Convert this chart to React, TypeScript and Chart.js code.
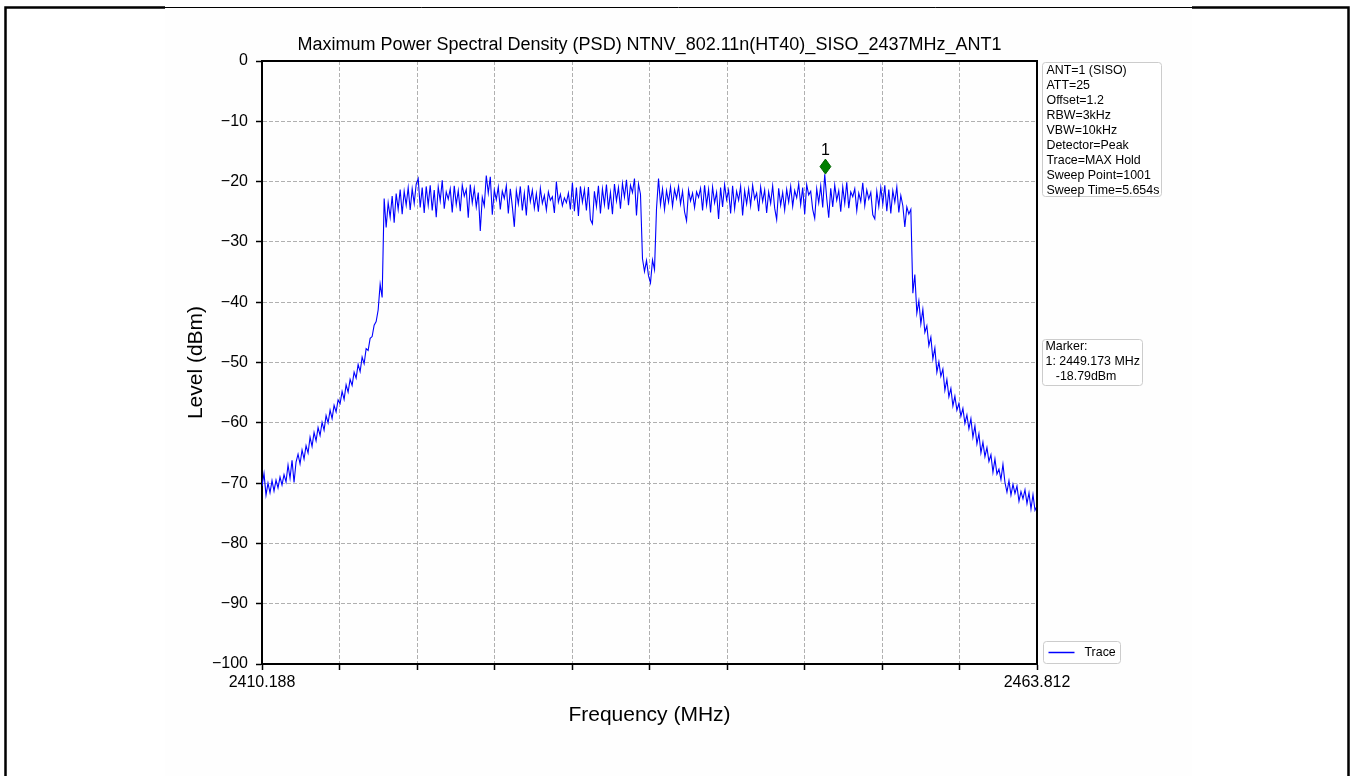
import React, { useEffect, useRef } from "react";
import { Chart, registerables } from "chart.js";

Chart.register(...registerables);

const W = 1352;
const H = 776;
const FONT = "'Liberation Sans', Arial, Helvetica, sans-serif";

const FREQ_START = 2410.188;
const FREQ_STOP = 2463.812;

const titleText = "Maximum Power Spectral Density (PSD) NTNV_802.11n(HT40)_SISO_2437MHz_ANT1";

// Trace levels (dBm), left to right
const leftSkirt = [
  -70.5, -68.4, -72.0, -70.0, -71.6, -69.6, -71.3, -69.5, -70.8, -69.0,
  -70.3, -68.6, -69.8, -67.0, -69.2, -66.2, -69.9, -66.5, -65.2, -66.8,
  -64.5, -66.0, -63.8, -65.0, -62.4, -63.9, -61.6, -63.0, -60.8, -62.1,
  -59.9, -61.2, -58.8, -60.0, -57.9, -59.3, -57.1, -58.2, -56.2, -56.8,
  -54.8, -56.1, -53.7, -54.9, -52.8, -53.8, -51.6, -52.6, -50.3, -51.5,
  -49.1, -50.2, -47.7, -48.0, -46.0, -45.7, -43.8, -43.2, -41.3, -37.0,
  -39.2,
];

const leftBand = [
  -22.8, -27.6, -23.5, -25.9, -22.4, -26.8, -22.0, -24.6, -21.3, -25.4,
  -21.6, -23.9, -21.0, -24.7, -21.2, -23.6, -20.4, -19.5, -24.3, -21.0,
  -25.2, -20.8, -23.9, -20.6, -24.8, -21.4, -25.9, -20.9, -23.2, -19.8,
  -24.5, -21.7, -22.9, -21.2, -25.1, -20.7, -23.8, -21.5, -24.9, -20.6,
  -22.4, -21.3, -26.0, -20.5, -23.5, -21.1, -24.2, -21.8, -28.2, -22.6,
  -24.0, -19.0, -21.9, -19.2, -25.5, -21.4, -23.0, -20.9, -24.6, -21.6,
  -22.8, -20.7, -25.3, -21.2, -24.1, -27.5, -21.5, -23.7, -20.8, -24.8,
  -21.9, -25.6, -20.6, -23.3, -21.4, -24.4, -22.0, -25.0, -21.1, -23.6,
  -22.3, -24.7, -21.7, -23.1, -22.5, -25.2, -20.0, -23.4, -22.1, -24.0,
  -22.7, -23.5, -21.9, -24.6, -20.2, -24.9, -21.0, -25.7, -20.8, -23.4,
  -21.3, -24.8, -20.9, -26.3, -27.0, -21.6, -24.1, -20.7, -25.3, -21.2,
  -23.8, -20.5, -24.6, -21.8, -25.4, -20.4, -23.2, -21.0, -24.5, -20.3,
  -22.6, -19.7, -23.9, -20.6, -21.8, -19.5, -25.6, -20.4, -22.1,
];

const centerNotch = [-32.8, -34.9, -33.1, -35.6, -36.8, -33.0, -34.6];

const rightBand = [
  -24.5, -19.5, -23.8, -21.2, -24.6, -21.5, -23.4, -20.9, -24.1, -21.3,
  -22.8, -20.8, -23.7, -21.6, -25.0, -26.5, -21.4, -23.2, -21.9, -24.3,
  -21.7, -22.6, -21.1, -24.8, -20.6, -23.9, -21.3, -25.1, -20.9, -23.5,
  -21.8, -26.2, -21.0, -24.2, -20.5, -23.0, -21.4, -25.3, -20.7, -24.5,
  -21.6, -23.1, -20.8, -25.6, -21.5, -23.7, -21.2, -24.0, -20.6, -22.9,
  -21.9, -24.9, -20.9, -23.3, -21.4, -25.2, -21.7, -23.6, -20.7, -24.4,
  -26.3, -21.1, -23.9, -21.8, -24.7, -21.3, -23.4, -20.8, -24.1, -21.5,
  -22.7, -20.4, -23.8, -21.0, -25.4, -20.5, -22.2, -21.6, -24.6, -26.1,
  -21.2, -23.5, -20.7, -24.3, -18.79, -22.8, -26.0, -21.1, -24.2, -20.6,
  -23.1, -21.5, -25.0, -20.9, -23.6, -20.1, -24.4, -21.7, -22.5, -21.2,
  -24.8, -21.9, -23.3, -20.2, -24.0, -21.4, -22.9, -21.8, -25.5, -26.2,
  -21.6, -24.1, -21.0, -23.7, -20.6, -24.9, -21.3, -25.3, -21.5, -23.4,
  -20.9, -25.1, -22.3, -24.0, -27.5, -24.2, -25.4, -24.6,
];

const rightSkirt = [
  -38.5, -35.4, -41.8, -39.8, -43.6, -41.2, -45.0, -43.9, -47.2, -45.8,
  -49.4, -47.6, -51.6, -49.9, -52.3, -51.1, -54.6, -52.8, -55.7, -54.3,
  -57.2, -55.6, -57.9, -56.8, -58.9, -57.6, -60.1, -58.7, -61.0, -59.3,
  -62.4, -60.5, -63.5, -61.8, -65.0, -63.2, -65.6, -64.1, -66.4, -65.3,
  -68.2, -66.0, -68.5, -67.7, -69.4, -66.9, -69.9, -71.5, -69.6, -72.0,
  -70.2, -71.7, -70.5, -73.0, -71.4, -72.6, -71.1, -73.4, -71.6, -74.3,
  -71.9, -74.5, -73.8,
];

const levels = [...leftSkirt, ...leftBand, ...centerNotch, ...rightBand, ...rightSkirt];

const xTickValues = [
  2410.188, 2415.5504, 2420.9128, 2426.2752, 2431.6376, 2437.0,
  2442.3624, 2447.7248, 2453.0872, 2458.4496, 2463.812,
];
const xTickLabels = ["2410.188", "", "", "", "", "", "", "", "", "", "2463.812"];

const Y_MIN = -100;
const Y_MAX = 0;
const Y_STEP = 10;

const markerFreq = 2449.173;
const markerLevel = -18.79;
const markerName = "1";

const settingsLines = [
  "ANT=1 (SISO)",
  "ATT=25",
  "Offset=1.2",
  "RBW=3kHz",
  "VBW=10kHz",
  "Detector=Peak",
  "Trace=MAX Hold",
  "Sweep Point=1001",
  "Sweep Time=5.654s",
];
const markerLines = ["Marker:", "1: 2449.173 MHz", "   -18.79dBm"];
const legendLabel = "Trace";

function roundRect(ctx: CanvasRenderingContext2D, x: number, y: number, w: number, h: number, r: number) {
  ctx.beginPath();
  ctx.moveTo(x + r, y);
  ctx.lineTo(x + w - r, y);
  ctx.arcTo(x + w, y, x + w, y + r, r);
  ctx.lineTo(x + w, y + h - r);
  ctx.arcTo(x + w, y + h, x + w - r, y + h, r);
  ctx.lineTo(x + r, y + h);
  ctx.arcTo(x, y + h, x, y + h - r, r);
  ctx.lineTo(x, y + r);
  ctx.arcTo(x, y, x + r, y, r);
  ctx.closePath();
}

function drawBox(ctx: CanvasRenderingContext2D, x: number, y: number, w: number, h: number) {
  roundRect(ctx, x, y, w, h, 3);
  ctx.fillStyle = "rgba(255,255,255,0.9)";
  ctx.fill();
  ctx.strokeStyle = "#cccccc";
  ctx.lineWidth = 1;
  ctx.stroke();
}

const decorPlugin = {
  id: "decor",
  beforeDraw(chart: any) {
    const ctx: CanvasRenderingContext2D = chart.ctx;
    ctx.save();
    ctx.fillStyle = "#ffffff";
    ctx.fillRect(0, 0, W, H);
    ctx.fillStyle = "#fefefe";
    ctx.fillRect(165, 8, 1027, H - 8);
    ctx.strokeStyle = "#000";
    ctx.lineWidth = 2.5;
    ctx.beginPath();
    ctx.moveTo(5.5, H);
    ctx.lineTo(5.5, 7.5);
    ctx.lineTo(165, 7.5);
    ctx.stroke();
    ctx.beginPath();
    ctx.moveTo(1192, 7.5);
    ctx.lineTo(1348.5, 7.5);
    ctx.lineTo(1348.5, H);
    ctx.stroke();
    ctx.lineWidth = 1;
    ctx.beginPath();
    ctx.moveTo(165, 7.5);
    ctx.lineTo(1192, 7.5);
    ctx.stroke();
    ctx.restore();
  },
  afterDraw(chart: any) {
    const ctx: CanvasRenderingContext2D = chart.ctx;
    const a = chart.chartArea;
    const xs = chart.scales.x;
    const ys = chart.scales.y;
    ctx.save();
    // top and right spines
    ctx.strokeStyle = "#000";
    ctx.lineWidth = 2;
    ctx.beginPath();
    ctx.moveTo(a.left, a.top);
    ctx.lineTo(a.right, a.top);
    ctx.lineTo(a.right, a.bottom);
    ctx.stroke();

    // marker
    const mx = xs.getPixelForValue(markerFreq);
    const my = ys.getPixelForValue(markerLevel);
    const cy = my - 7.7;
    ctx.beginPath();
    ctx.moveTo(mx, cy - 7.5);
    ctx.lineTo(mx + 5.4, cy);
    ctx.lineTo(mx, cy + 7.5);
    ctx.lineTo(mx - 5.4, cy);
    ctx.closePath();
    ctx.fillStyle = "#008000";
    ctx.fill();
    ctx.strokeStyle = "#006400";
    ctx.lineWidth = 1;
    ctx.stroke();
    ctx.fillStyle = "#000";
    ctx.font = `16px ${FONT}`;
    ctx.textAlign = "center";
    ctx.textBaseline = "middle";
    ctx.fillText(markerName, mx, cy - 16);

    // settings box
    const bx = a.right + 5.5;
    ctx.font = `12.4px ${FONT}`;
    ctx.textAlign = "left";
    drawBox(ctx, bx, a.top + 1.5, 119, 134);
    ctx.fillStyle = "#000";
    settingsLines.forEach((t, i) => ctx.fillText(t, bx + 4, a.top + 9.5 + i * 15));

    // marker box
    const mTop = 339.5;
    drawBox(ctx, bx, mTop, 100, 46);
    ctx.fillStyle = "#000";
    markerLines.forEach((t, i) => ctx.fillText(t, bx + 3, mTop + 7.5 + i * 15));

    // legend
    const lTop = a.bottom - 22.5;
    drawBox(ctx, bx + 1, lTop, 77, 22);
    ctx.strokeStyle = "#0000ff";
    ctx.lineWidth = 1.5;
    ctx.beginPath();
    ctx.moveTo(bx + 6, lTop + 11);
    ctx.lineTo(bx + 32, lTop + 11);
    ctx.stroke();
    ctx.fillStyle = "#000";
    ctx.fillText(legendLabel, bx + 42, lTop + 11);
    ctx.restore();
  },
};

export default function App() {
  const ref = useRef<HTMLCanvasElement | null>(null);

  useEffect(() => {
    if (!ref.current) return;
    const n = levels.length;
    const step = (FREQ_STOP - FREQ_START) / (n - 1);
    const points = levels.map((v, i) => ({ x: FREQ_START + i * step, y: v }));

    const chart = new Chart(ref.current, {
      type: "line",
      data: {
        datasets: [
          {
            label: legendLabel,
            data: points,
            borderColor: "#0000ff",
            borderWidth: 1.1,
            pointRadius: 0,
            tension: 0,
            fill: false,
          },
        ],
      },
      options: {
        animation: false,
        responsive: false,
        devicePixelRatio: 1,
        layout: { padding: { left: 0, right: 315, top: 0, bottom: 0 } },
        plugins: {
          legend: { display: false },
          tooltip: { enabled: false },
          title: {
            display: true,
            text: titleText,
            fullSize: false,
            color: "#000",
            font: { family: FONT, size: 18, weight: "normal" },
            padding: { top: 34, bottom: 5.4 },
          },
        },
        scales: {
          x: {
            type: "linear",
            min: FREQ_START,
            max: FREQ_STOP,
            afterBuildTicks: (s: any) => {
              s.ticks = xTickValues.map((v) => ({ value: v }));
            },
            afterFit: (s: any) => {
              s.height = 112;
            },
            ticks: {
              autoSkip: false,
              maxRotation: 0,
              minRotation: 0,
              padding: 3,
              color: "#000",
              font: { family: FONT, size: 16 },
              callback: (_v: any, i: number) => xTickLabels[i],
            },
            grid: { color: "#b0b0b0", lineWidth: 1, tickLength: 6, tickColor: "#000", tickWidth: 1.5 },
            border: { display: true, color: "#000", width: 2, dash: [4, 2] },
            title: {
              display: true,
              text: "Frequency (MHz)",
              color: "#000",
              font: { family: FONT, size: 21, weight: "normal" },
              padding: { top: 0, bottom: 48 },
            },
          },
          y: {
            type: "linear",
            min: Y_MIN,
            max: Y_MAX,
            afterFit: (s: any) => {
              s.width = 262;
            },
            ticks: {
              stepSize: Y_STEP,
              padding: 8,
              color: "#000",
              font: { family: FONT, size: 16 },
              callback: (v: any) => (Number(v) < 0 ? "\u2212" + Math.abs(Number(v)) : String(v)),
            },
            grid: { color: "#b0b0b0", lineWidth: 1, tickLength: 6, tickColor: "#000", tickWidth: 1.5 },
            border: { display: true, color: "#000", width: 2, dash: [4, 2] },
            title: {
              display: true,
              text: "Level (dBm)",
              color: "#000",
              font: { family: FONT, size: 21, weight: "normal" },
              padding: { top: 184, bottom: 0 },
            },
          },
        },
      },
      plugins: [decorPlugin],
    } as any);

    return () => chart.destroy();
  }, []);

  return (
    <div style={{ position: "absolute", left: 0, top: 0, width: W, height: H }}>
      <canvas ref={ref} width={W} height={H} style={{ display: "block", width: W, height: H }} />
    </div>
  );
}
